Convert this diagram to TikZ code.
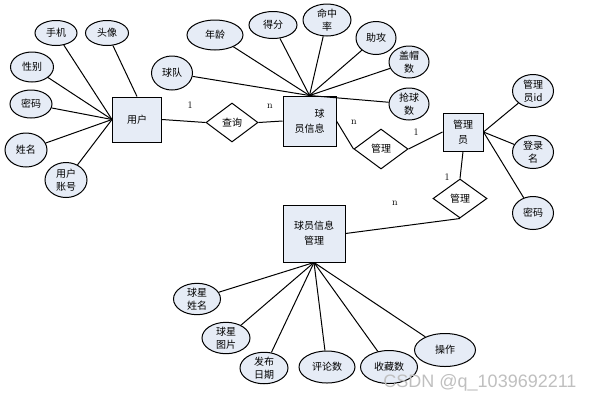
\documentclass[tikz,border=0pt]{standalone}
\usepackage{fontspec}
\newfontfamily\cjk{Noto Sans CJK SC}
\usetikzlibrary{shapes.geometric}
\definecolor{boxfill}{RGB}{230,236,246}
\begin{document}
\begin{tikzpicture}[x=1pt,y=-1pt,line width=1pt,
    attr/.style={ellipse,draw,fill=boxfill,inner sep=0pt,align=center,font=\cjk\fontsize{10}{13}\selectfont},
    entity/.style={rectangle,draw,fill=boxfill,inner sep=0pt,align=center,font=\cjk\fontsize{10}{15}\selectfont},
    rel/.style={diamond,draw,fill=white,inner sep=0pt,font=\cjk\fontsize{10}{12}\selectfont},
    card/.style={font=\fontsize{10}{12}\selectfont}]
  \useasboundingbox (0,0) rectangle (593,402);

  \node[entity,minimum width=49pt,minimum height=45pt] (yh) at (137,119.5) {用户};
  \node[entity,minimum width=53pt,minimum height=50pt,align=right] (qyxx) at (309.5,121) {球\\员信息};
  \node[entity,minimum width=40pt,minimum height=38pt] (gly) at (463,132) {管理\\员};
  \node[entity,minimum width=62pt,minimum height=57pt] (qygl) at (314,233.5) {球员信息\\管理};

  \node[rel,minimum width=52pt,minimum height=39pt] (cx) at (232,122.5) {查询};
  \node[rel,minimum width=54pt,minimum height=40pt] (gl1) at (381,149) {管理};
  \node[rel,minimum width=54pt,minimum height=39pt] (gl2) at (460,198.5) {管理};

  \node[attr,minimum width=42pt,minimum height=25pt] (sj) at (56,33) {手机};
  \node[attr,minimum width=43pt,minimum height=25pt] (tx) at (107,33) {头像};
  \node[attr,minimum width=43pt,minimum height=30pt] (xb) at (32,67) {性别};
  \node[attr,minimum width=42pt,minimum height=28pt] (mm) at (31,104) {密码};
  \node[attr,minimum width=42pt,minimum height=34pt] (xm) at (26,150) {姓名};
  \node[attr,minimum width=42pt,minimum height=35pt] (zh) at (66,180) {用户\\账号};

  \node[attr,minimum width=56pt,minimum height=30pt] (nl) at (215,35) {年龄};
  \node[attr,minimum width=48pt,minimum height=27pt] (df) at (273,25) {得分};
  \node[attr,minimum width=41pt,minimum height=34pt] (qd) at (172,73) {球队};
  \node[attr,minimum width=48pt,minimum height=32pt] (mzl) at (327,20) {命中\\率};
  \node[attr,minimum width=40pt,minimum height=33pt] (zg) at (376,38) {助攻};
  \node[attr,minimum width=40pt,minimum height=32pt] (gms) at (409,62) {盖帽\\数};
  \node[attr,minimum width=40pt,minimum height=32pt] (qqs) at (409,104) {抢球\\数};

  \node[attr,minimum width=41pt,minimum height=33pt] (gid) at (533,91) {管理\\员id};
  \node[attr,minimum width=41pt,minimum height=33pt] (dlm) at (533,152) {登录\\名};
  \node[attr,minimum width=41pt,minimum height=33pt] (gmm) at (533,213) {密码};

  \node[attr,minimum width=47pt,minimum height=30pt] (xxm) at (197,299) {球星\\姓名};
  \node[attr,minimum width=48pt,minimum height=31pt] (xtp) at (226,338) {球星\\图片};
  \node[attr,minimum width=48pt,minimum height=31pt] (fbrq) at (264,368) {发布\\日期};
  \node[attr,minimum width=56pt,minimum height=32pt] (pls) at (327,367) {评论数};
  \node[attr,minimum width=57pt,minimum height=33pt] (scs) at (389,367) {收藏数};
  \node[attr,minimum width=61pt,minimum height=33pt] (cz) at (445,350) {操作};

  \draw (sj) -- (yh.west);
  \draw (xb) -- (yh.west);
  \draw (mm) -- (yh.west);
  \draw (xm) -- (yh.west);
  \draw (zh) -- (yh.west);
  \draw (tx) -- (yh.north);

  \draw (nl) -- (qyxx.north);
  \draw (df) -- (qyxx.north);
  \draw (qd) -- (qyxx.north);
  \draw (mzl) -- (qyxx.north);
  \draw (zg) -- (qyxx.north);
  \draw (gms) -- (qyxx.north);
  \draw (qqs) -- (qyxx.north);

  \draw (gid) -- (gly.east);
  \draw (dlm) -- (gly.east);
  \draw (gmm) -- (gly.east);

  \draw (xxm) -- (qygl.south);
  \draw (xtp) -- (qygl.south);
  \draw (fbrq) -- (qygl.south);
  \draw (pls) -- (qygl.south);
  \draw (scs) -- (qygl.south);
  \draw (cz) -- (qygl.south);

  \draw (yh.east) -- (cx.west);
  \draw (cx.east) -- (qyxx.west);
  \draw (qyxx.east) -- (gl1.west);
  \draw (gl1.east) -- (gly.west);
  \draw (gly.south) -- (gl2.north);
  \draw (gl2.south) -- (qygl.east);

  \node[card] (c1) at (190,105) {1};
  \node[card] (c2) at (270,106) {n};
  \node[card] (c3) at (354,122) {n};
  \node[card] (c4) at (416,132) {1};
  \node[card] (c5) at (447,177) {1};
  \node[card] (c6) at (395,203) {n};

  \node[font=\fontspec{Liberation Sans}\fontsize{18}{20}\selectfont,text=gray!50] (wm) at (480,383) {CSDN @q\_1039692211};
\end{tikzpicture}
\end{document}
